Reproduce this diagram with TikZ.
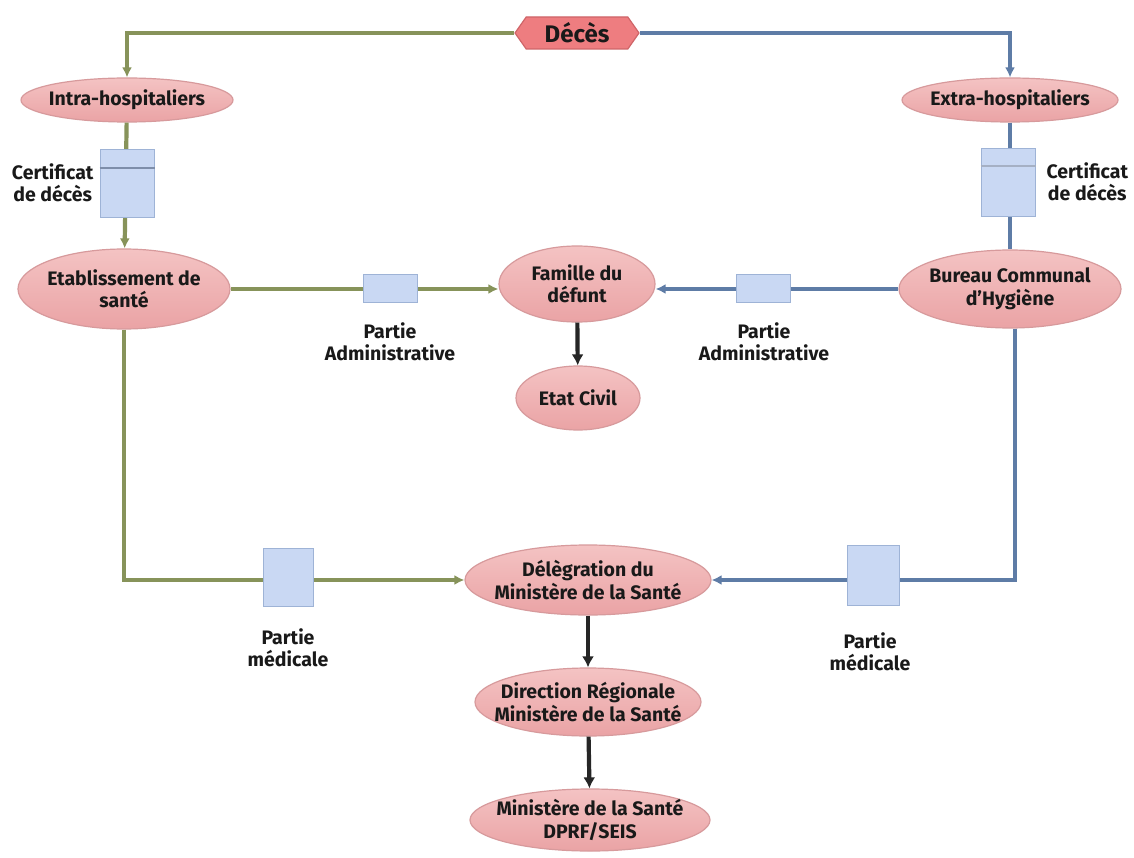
\documentclass[tikz,border=0pt]{standalone}
\usepackage{fontspec}
\setmainfont{Fira Sans}
\usetikzlibrary{shapes.geometric,shapes.symbols,arrows.meta}
\definecolor{pinkfill}{HTML}{F4C3C3}
\definecolor{pinkdeep}{HTML}{EAA3A5}
\definecolor{pinkline}{HTML}{D79A9C}
\definecolor{decesfill}{HTML}{EE7D80}
\definecolor{decesline}{HTML}{CF6568}
\definecolor{greenline}{HTML}{87935A}
\definecolor{blueline}{HTML}{5E7CA6}
\definecolor{docfill}{HTML}{C9D8F3}
\definecolor{docline}{HTML}{9EB3D6}
\definecolor{docband}{HTML}{7E8EAA}
\tikzset{
  org/.style={ellipse, draw=pinkline, line width=1.2pt, top color=pinkfill, bottom color=pinkdeep,
    inner xsep=-40pt, inner ysep=-12pt, align=center, font=\bfseries\fontsize{19.5}{22.5}\selectfont, text=black!90},
  doc/.style={draw=docline, line width=1pt, fill=docfill, inner sep=0pt},
  lbl/.style={align=center, font=\bfseries\fontsize{19.5}{22}\selectfont, text=black!90},
  gflow/.style={draw=greenline, line width=4.2pt, -{Latex[length=10pt,width=10pt]}},
  bflow/.style={draw=blueline, line width=4.2pt, -{Latex[length=10pt,width=10pt]}},
  kflow/.style={draw=black!85, line width=4.2pt, -{Latex[length=11pt,width=12pt]}}
}
\begin{document}
\begin{tikzpicture}[x=1pt,y=-1pt]
\useasboundingbox (0,0) rectangle (1134,858);
\fill[white] (0,0) rectangle (1134,858);

% organisations
\node[signal, signal to=west and east, signal pointer angle=110, draw=decesline, line width=1.2pt,
  fill=decesfill, minimum width=124pt, minimum height=32pt, inner sep=0pt,
  font=\bfseries\fontsize{24}{28}\selectfont, text=black!90] (deces) at (577,33) {Décès};
\node[org, minimum width=212pt, minimum height=44pt] (intra) at (127,100) {Intra-hospitaliers};
\node[org, minimum width=216pt, minimum height=44pt] (extra) at (1010,100) {Extra-hospitaliers};
\node[org, minimum width=212pt, minimum height=80pt] (etab) at (124,289) {Etablissement de\\santé};
\node[org, minimum width=222pt, minimum height=78pt] (bureau) at (1010,289) {Bureau Communal\\d’Hygiène};
\node[org, minimum width=156pt, minimum height=76pt] (famille) at (577,284) {Famille du\\défunt};
\node[org, minimum width=124pt, minimum height=64pt] (etat) at (578,398) {Etat Civil};
\node[org, minimum width=246pt, minimum height=70pt] (deleg) at (588,580) {Délègration du\\Ministère de la Santé};
\node[org, minimum width=226pt, minimum height=68pt] (dir) at (588,702) {Direction Régionale\\Ministère de la Santé};
\node[org, minimum width=240pt, minimum height=62pt] (min) at (590,820) {Ministère de la Santé\\DPRF/SEIS};

% flows
\draw[gflow] (deces.west) -| (intra.north);
\draw[bflow] (deces.east) -| (extra.north);
\draw[gflow] (intra) -- (etab);
\draw[bflow, -] (extra) -- (bureau);
\draw[gflow] (etab.east) -- (famille.west |- etab.east);
\draw[bflow] (bureau.west) -- (famille.east |- bureau.west);
\draw[kflow] (famille) -- (etat);
\draw[gflow] (etab.south) |- (deleg.west);
\draw[bflow] (bureau.south) ++(5,0) coordinate (bdown) |- (deleg.east);
\draw[kflow] (deleg) -- (dir);
\draw[kflow] (dir) -- (min);

% documents along the flows
\node[doc, minimum width=54pt, minimum height=68pt] (certL) at (127,184) {};
\draw[docband, line width=2pt] ([yshift=-19pt]certL.north west) -- ([yshift=-19pt]certL.north east);
\node[doc, minimum width=54pt, minimum height=68pt] (certR) at (1008,183) {};
\draw[docband!70, line width=2pt] ([yshift=-18pt]certR.north west) -- ([yshift=-18pt]certR.north east);
\node[doc, minimum width=54pt, minimum height=28pt] (admL) at (390,289) {};
\node[doc, minimum width=54pt, minimum height=28pt] (admR) at (763,289) {};
\node[doc, minimum width=50pt, minimum height=58pt] (medL) at (288,577) {};
\node[doc, minimum width=52pt, minimum height=60pt] (medR) at (873,575) {};

% document labels
\node[lbl, anchor=east] (certLt) at (97,183) {Certificat\\de décès};
\node[lbl, anchor=west] (certRt) at (1043,182) {Certificat\\de décès};
\node[lbl] (admLt) at (390,342) {Partie\\Administrative};
\node[lbl] (admRt) at (764,342) {Partie\\Administrative};
\node[lbl] (medLt) at (288,648) {Partie\\médicale};
\node[lbl] (medRt) at (870,652) {Partie\\médicale};
\end{tikzpicture}
\end{document}
